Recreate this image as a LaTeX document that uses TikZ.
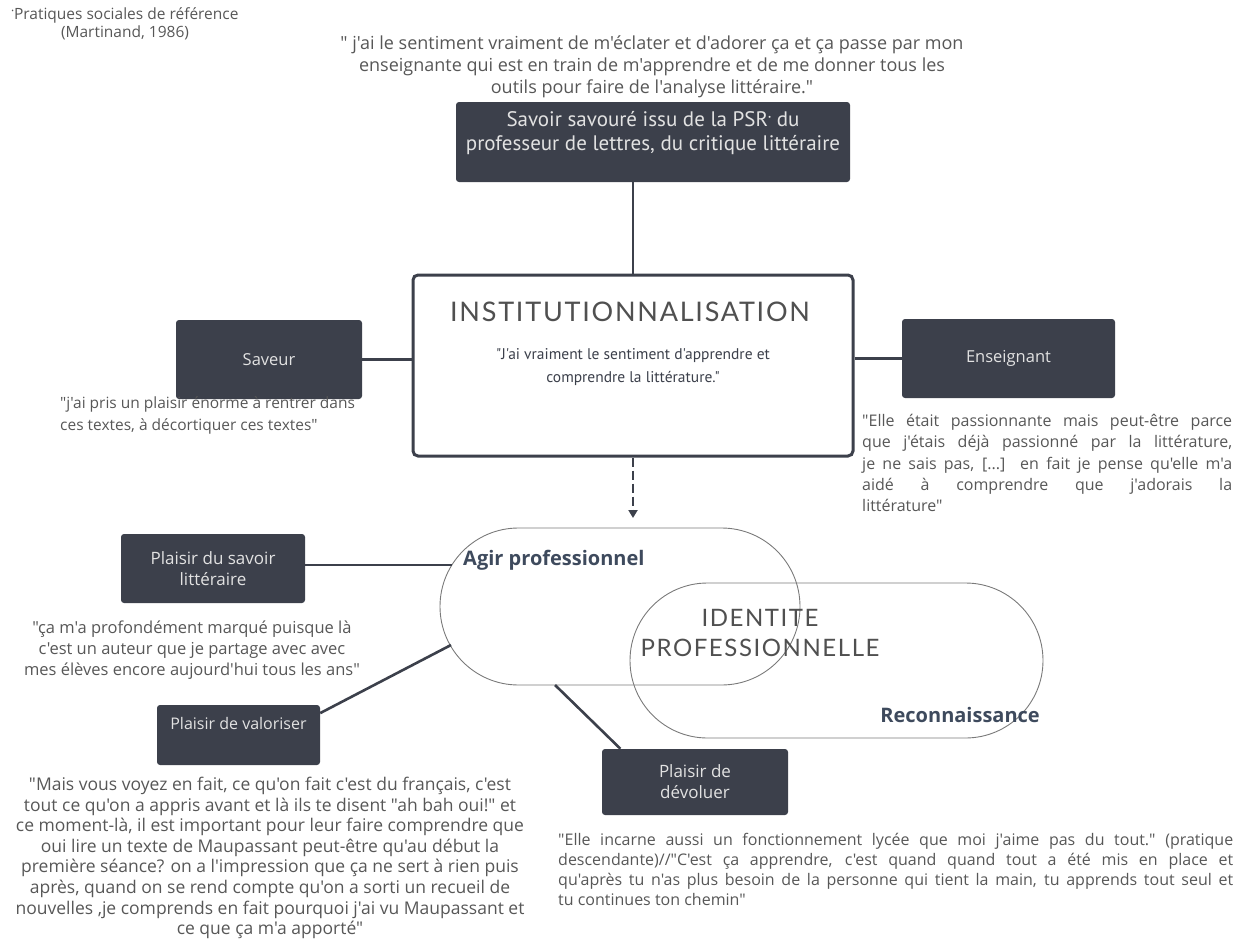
\documentclass[tikz,border=0pt]{standalone}
\usepackage{fontspec}
\setmainfont[Ligatures={TeXOff,CommonOff}]{Open Sans}
\newfontfamily\condf[Ligatures={TeXOff,CommonOff}]{PT Sans}
\newfontfamily\titlef[Ligatures={TeXOff,CommonOff},LetterSpace=6.5]{Lato}
\usetikzlibrary{shapes.misc,arrows.meta}
\definecolor{darkc}{HTML}{3C404B}
\definecolor{quotec}{HTML}{575757}
\definecolor{accentc}{HTML}{3E4A5D}
\definecolor{boxtextc}{HTML}{E2E2E2}
\definecolor{titlec}{HTML}{505050}
\definecolor{stadc}{HTML}{7A7A7A}
\newcommand{\mdot}{\raisebox{0.7ex}{\fontsize{7}{7}\selectfont •}}
\begin{document}
\begin{tikzpicture}[x=1pt,y=-1pt,
  darkbox/.style={fill=darkc, rounded corners=3pt, inner sep=0pt, text=boxtextc, align=center},
  boxlbl/.style={text=boxtextc, align=center, inner sep=0pt},
  quotetext/.style={text=quotec, inner sep=0pt, font=\fontsize{16.5}{21}\selectfont},
  conn/.style={draw=darkc, line width=2.6pt},
  stad/.style={draw=stadc, line width=0.9pt, rounded rectangle, inner sep=0pt},
  accent/.style={text=accentc, font=\fontsize{20}{22}\selectfont\bfseries, inner sep=0pt},
  bigtitle/.style={text=titlec, font=\titlef\fontsize{24}{30}\selectfont, align=center, inner sep=0pt}
]
\useasboundingbox (0,0) rectangle (1253,942);

% footnote
\node[text=quotec, align=center, inner sep=0pt, font=\fontsize{15.5}{18}\selectfont] (foot) at (125,24)
  {\mdot Pratiques sociales de référence\\(Martinand, 1986)};

% top quote
\node[quotetext, align=center, font=\fontsize{18}{22}\selectfont] (topq) at (652,67)
  {" j'ai le sentiment vraiment de m'éclater et d'adorer ça et ça passe par mon\\
   enseignante qui est en train de m'apprendre et de me donner tous les\\
   outils pour faire de l'analyse littéraire."};

% boxes
\node[darkbox, minimum width=394pt, minimum height=80pt] (psr) at (653,142) {};
\node[boxlbl, font=\condf\fontsize{21}{24}\selectfont] (psrl) at (653,133)
  {Savoir savouré issu de la PSR\mdot{} du\\professeur de lettres, du critique littéraire};

\node[draw=darkc, line width=3pt, rounded corners=5pt, fill=white, minimum width=440pt, minimum height=181pt, inner sep=0pt] (inst) at (633,365.5) {};
\node[bigtitle, font=\titlef\fontsize{27}{30}\selectfont] (instl) at (630,312) {INSTITUTIONNALISATION};
\node[text=darkc, align=center, inner sep=0pt, font=\condf\fontsize{15.5}{23}\selectfont] (instq) at (633,367)
  {"J'ai vraiment le sentiment d'apprendre et\\comprendre la littérature."};

\node[darkbox, minimum width=186pt, minimum height=79pt, font=\fontsize{16.5}{20}\selectfont] (saveur) at (269,359.5) {Saveur};
\node[darkbox, minimum width=213pt, minimum height=79pt, font=\fontsize{16.5}{20}\selectfont] (ens) at (1008.5,358.5) {Enseignant};

\node[darkbox, minimum width=184pt, minimum height=69pt, font=\fontsize{17}{21}\selectfont] (savoir) at (213,568.5) {Plaisir du savoir\\littéraire};
\node[darkbox, minimum width=163pt, minimum height=60pt] (valor) at (238.5,735) {};
\node[boxlbl, font=\fontsize{16}{20}\selectfont] (valorl) at (238.5,723) {Plaisir de valoriser};
\node[darkbox, minimum width=186pt, minimum height=66pt, font=\fontsize{17}{21}\selectfont] (devol) at (695,782) {Plaisir de\\dévoluer};

% stadiums
\node[stad, minimum width=360pt, minimum height=157pt] (agir) at (620,606.5) {};
\node[stad, minimum width=413pt, minimum height=155pt] (recon) at (836.5,660.5) {};

\node[accent, anchor=west] (agirl) at (463,560) {Agir professionnel};
\node[accent, anchor=east] (reconl) at (1040,715) {Reconnaissance};
\node[bigtitle] (identl) at (760,633) {IDENTITE\\PROFESSIONNELLE};

% connectors
\coordinate (c1) at (452,565);
\coordinate (c2) at (451,645);
\coordinate (c3) at (555,685);
\coordinate (arr) at (633,518);
\draw[conn] (inst.north) -- (inst.north |- psr.south);
\draw[conn] (saveur.east) -- (inst.west |- saveur.east);
\draw[conn] (inst.east |- ens.west) -- (ens.west);
\draw[draw=darkc, line width=2pt, dash pattern=on 9pt off 4pt, -{Triangle[length=8pt,width=9pt]}] (inst.south) -- (arr);
\draw[conn] (savoir.east |- c1) -- (c1);
\draw[conn] (valor.15) -- (c2);
\draw[conn] (devol.156) -- (c3);

% quotes
\node[quotetext, align=left, anchor=west, font=\fontsize{15.5}{22}\selectfont] (saveurq) at (60,415)
  {"j'ai pris un plaisir énorme à rentrer dans\\ces textes, à décortiquer ces textes"};

\node[quotetext, align=left, anchor=west, font=\fontsize{16}{21.2}\selectfont] (ensq) at (862,463)
  {\makebox[370pt][s]{"Elle était passionnante mais peut-être parce}\\
   \makebox[370pt][s]{que j'étais déjà passionné par la littérature,}\\
   \makebox[370pt][s]{je ne sais pas, [...] en fait je pense qu'elle m'a}\\
   \makebox[370pt][s]{aidé à comprendre que j'adorais la}\\
   littérature"};

\node[quotetext, align=center, font=\fontsize{16.5}{21}\selectfont] (savoirq) at (192,650)
  {"ça m'a profondément marqué puisque là\\c'est un auteur que je partage avec avec\\mes élèves encore aujourd'hui tous les ans"};

\node[quotetext, align=center, font=\fontsize{17.5}{20.6}\selectfont] (valorq) at (270,858)
  {"Mais vous voyez en fait, ce qu'on fait c'est du français, c'est\\
   tout ce qu'on a appris avant et là ils te disent "ah bah oui!" et\\
   ce moment-là, il est important pour leur faire comprendre que\\
   oui lire un texte de Maupassant peut-être qu'au début la\\
   première séance? on a l'impression que ça ne sert à rien puis\\
   après, quand on se rend compte qu'on a sorti un recueil de\\
   nouvelles ,je comprends en fait pourquoi j'ai vu Maupassant et\\
   ce que ça m'a apporté"};

\node[quotetext, align=left, anchor=west, font=\fontsize{16}{20}\selectfont] (devolq) at (558,869)
  {\makebox[675pt][s]{"Elle incarne aussi un fonctionnement lycée que moi j'aime pas du tout." (pratique}\\
   \makebox[675pt][s]{descendante)//"C'est ça apprendre, c'est quand quand tout a été mis en place et}\\
   \makebox[675pt][s]{qu'après tu n'as plus besoin de la personne qui tient la main, tu apprends tout seul et}\\
   tu continues ton chemin"};
\end{tikzpicture}
\end{document}
